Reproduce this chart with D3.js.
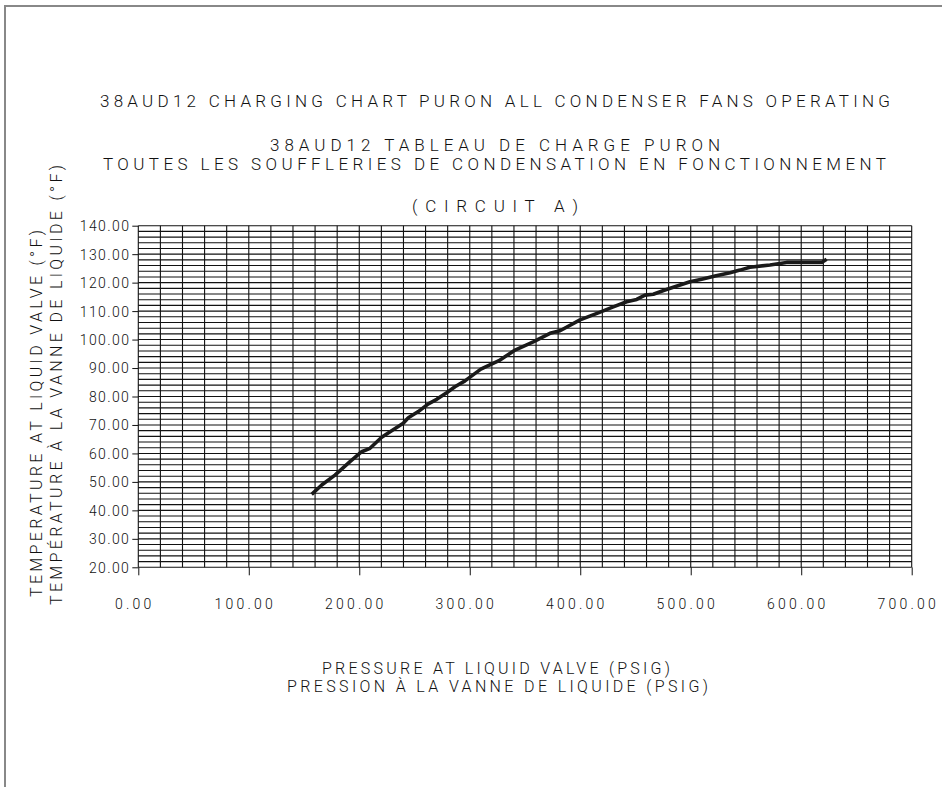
<!DOCTYPE html>
<html>
<head>
<meta charset="utf-8">
<script src="https://cdn.jsdelivr.net/npm/d3@7"></script>
<style>
  html, body { margin: 0; padding: 0; background: #fff; }
  svg { display: block; }
  text { font-family: "Roboto", "DejaVu Sans", sans-serif; font-weight: 300; fill: #111; }
</style>
</head>
<body>
<script>
// ---- data ----
const titleLines = [
  "38AUD12 CHARGING CHART PURON ALL CONDENSER FANS OPERATING",
  "38AUD12 TABLEAU DE CHARGE PURON",
  "TOUTES LES SOUFFLERIES DE CONDENSATION EN FONCTIONNEMENT",
  "(CIRCUIT A)"
];
const xLabelLines = ["PRESSURE AT LIQUID VALVE (PSIG)", "PRESSION À LA VANNE DE LIQUIDE (PSIG)"];
const yLabelLines = ["TEMPERATURE AT LIQUID VALVE (°F)", "TEMPÉRATURE À LA VANNE DE LIQUIDE (°F)"];

const xTicks = [0, 100, 200, 300, 400, 500, 600, 700];
const yTicks = [20, 30, 40, 50, 60, 70, 80, 90, 100, 110, 120, 130, 140];
const xGrid = d3.range(0, 701, 20);
const yGrid = d3.range(20, 141, 2);

const pressure = [156.9, 166.0, 178.0, 191.6, 202.2, 209.7, 220.3, 229.3, 239.8, 244.4, 253.4, 262.5,
  270.1, 279.1, 286.6, 295.7, 310.0, 327.4, 341.0, 357.5, 372.6, 381.7, 399.8, 416.3, 429.9, 442.0,
  451.1, 458.6, 466.1, 476.7, 499.3, 509.9, 522.0, 535.6, 544.6, 553.6, 571.7, 586.8, 618.5, 623.0];
const temperature = [45.6, 48.9, 52.4, 57.1, 60.6, 61.8, 65.7, 68.0, 70.6, 72.5, 74.7, 77.4,
  79.0, 81.3, 83.4, 85.5, 89.6, 92.8, 96.3, 99.2, 102.2, 103.1, 106.9, 109.4, 111.5, 113.3,
  114.1, 115.6, 115.9, 117.4, 120.3, 121.2, 122.3, 123.5, 124.4, 125.4, 126.2, 127.1, 127.1, 128.2];

// ---- layout ----
const W = 942, H = 787;
const pLeft = 138.3, pRight = 911.7, pTop = 225.7, pBottom = 567.3;

const svg = d3.select("body").append("svg").attr("width", W).attr("height", H);

// page frame (top and left edges)
svg.append("path").attr("d", `M5,787 L5,6 L942,6`).attr("fill", "none")
  .attr("stroke", "#888").attr("stroke-width", 2);

const x = d3.scaleLinear().domain([0, 700]).range([pLeft, pRight]);
const y = d3.scaleLinear().domain([20, 140]).range([pBottom, pTop]);

// grid
const g = svg.append("g");
g.selectAll("line.v").data(xGrid).join("line").attr("class", "v")
  .attr("x1", d => x(d)).attr("x2", d => x(d)).attr("y1", pTop).attr("y2", pBottom)
  .attr("stroke", "#111").attr("stroke-width", 1.1);
g.selectAll("line.h").data(yGrid).join("line").attr("class", "h")
  .attr("x1", pLeft).attr("x2", pRight).attr("y1", d => y(d)).attr("y2", d => y(d))
  .attr("stroke", "#111").attr("stroke-width", 1.1);

// axes
const xAxis = d3.axisBottom(x).tickValues(xTicks).tickSize(8).tickFormat(d3.format(".2f"));
const xa = svg.append("g").attr("transform", `translate(0,${pBottom})`).call(xAxis);
xa.select(".domain").remove();
xa.selectAll(".tick line").attr("stroke", "#111");
xa.selectAll(".tick text").attr("y", 37).attr("dy", "0.35em").attr("dx", -4)
  .attr("font-size", 14).attr("letter-spacing", 3.2)
  .style("font-family", '"Roboto", sans-serif').style("font-weight", 300).attr("fill", "#111");

const yAxis = d3.axisLeft(y).tickValues(yTicks).tickSize(6).tickFormat(d3.format(".2f"));
const ya = svg.append("g").attr("transform", `translate(${pLeft},0)`).call(yAxis);
ya.select(".domain").remove();
ya.selectAll(".tick line").attr("stroke", "#111");
ya.selectAll(".tick text").attr("x", -8).attr("dy", "0.35em")
  .attr("font-size", 14).attr("letter-spacing", 1.4)
  .style("font-family", '"Roboto", sans-serif').style("font-weight", 300).attr("fill", "#111");

// curve
const pts = pressure.map((p, i) => [p, temperature[i]]);
svg.append("path").datum(pts)
  .attr("d", d3.line().x(d => x(d[0])).y(d => y(d[1])))
  .attr("fill", "none").attr("stroke", "#1a1a1a").attr("stroke-width", 3.6)
  .attr("stroke-linejoin", "round");

// titles
const titleSpec = [
  { cy: 101, cx: 495, len: 790, fs: 17 },
  { cy: 145, cx: 495, len: 450, fs: 17 },
  { cy: 164, cx: 494.5, len: 783, fs: 17 },
  { cy: 206, cx: 495, len: 166, fs: 17 }
];
titleLines.forEach((t, i) => {
  const s = titleSpec[i];
  svg.append("text").text(t).attr("x", s.cx).attr("y", s.cy + s.fs * 0.35)
    .attr("text-anchor", "middle").attr("font-size", s.fs)
    .attr("textLength", s.len).attr("lengthAdjust", "spacing");
});

// x label
const xlSpec = [{ cy: 668, cx: 496, len: 348 }, { cy: 686, cx: 497.5, len: 421 }];
xLabelLines.forEach((t, i) => {
  const s = xlSpec[i];
  svg.append("text").text(t).attr("x", s.cx).attr("y", s.cy + 16 * 0.35)
    .attr("text-anchor", "middle").attr("font-size", 16)
    .attr("textLength", s.len).attr("lengthAdjust", "spacing");
});

// y label (rotated)
const ylSpec = [{ cx: 36, cy: 413.5, len: 367 }, { cx: 56, cy: 385, len: 440 }];
yLabelLines.forEach((t, i) => {
  const s = ylSpec[i];
  svg.append("text").text(t)
    .attr("transform", `translate(${s.cx + 16 * 0.35},${s.cy}) rotate(-90)`)
    .attr("text-anchor", "middle").attr("font-size", 16)
    .attr("textLength", s.len).attr("lengthAdjust", "spacing");
});
</script>
</body>
</html>
